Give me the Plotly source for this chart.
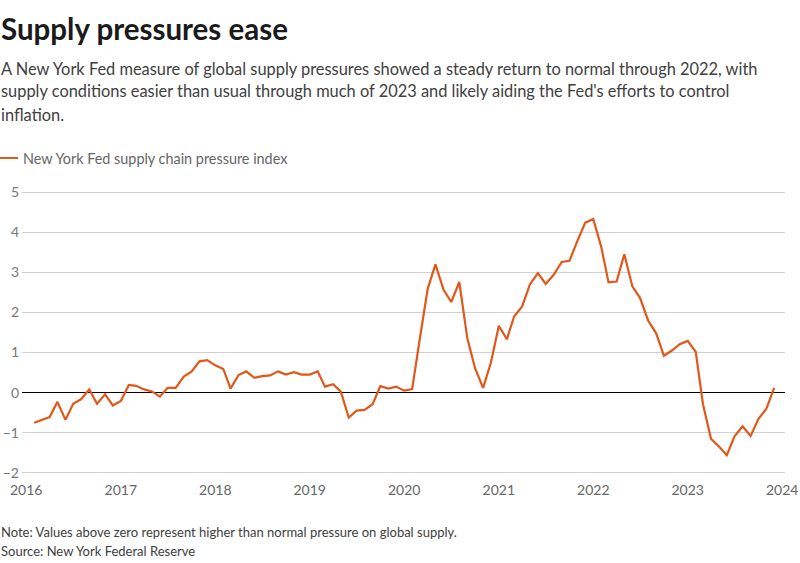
import plotly.graph_objects as go
import pandas as pd

# Monthly index, Feb 2016 - Dec 2023
months = pd.date_range("2016-02-01", "2023-12-01", freq="MS")
gscpi = [
    -0.75, -0.69, -0.61, -0.23, -0.68, -0.28, -0.16, 0.08, -0.28, -0.04, -0.32,
    -0.21, 0.19, 0.17, 0.08, 0.03, -0.10, 0.12, 0.12, 0.40, 0.52, 0.78, 0.81,
    0.68, 0.59, 0.10, 0.44, 0.53, 0.37, 0.41, 0.43, 0.53, 0.45, 0.51, 0.45,
    0.45, 0.53, 0.15, 0.21, 0.03, -0.62, -0.45, -0.43, -0.29, 0.16, 0.10, 0.15,
    0.05, 0.09, 1.32, 2.59, 3.20, 2.57, 2.26, 2.76, 1.36, 0.61, 0.12, 0.74,
    1.67, 1.33, 1.90, 2.15, 2.70, 2.98, 2.71, 2.94, 3.26, 3.29, 3.79, 4.24,
    4.33, 3.63, 2.75, 2.77, 3.45, 2.65, 2.36, 1.80, 1.48, 0.92, 1.05, 1.21,
    1.29, 1.02, -0.29, -1.15, -1.34, -1.56, -1.09, -0.84, -1.08, -0.66, -0.40,
    0.12,
]
series_name = "New York Fed supply chain pressure index"
year_ticks = [f"{y}-01-01" for y in range(2016, 2025)]
year_labels = [str(y) for y in range(2016, 2025)]
y_ticks = [-2, -1, 0, 1, 2, 3, 4, 5]

title = "Supply pressures ease"
subtitle_lines = [
    "A New York Fed measure of global supply pressures showed a steady return to normal through 2022, with",
    "supply conditions easier than usual through much of 2023 and likely aiding the Fed's efforts to control",
    "inflation.",
]
note = "Note: Values above zero represent higher than normal pressure on global supply."
source = "Source: New York Federal Reserve"

ORANGE = "#e0581a"
FONT = "Source Sans Pro, Lato, Liberation Sans Narrow, sans-serif"

W, H = 800, 563
L, R, T, B = 22, 15, 191, 89
pw, ph = W - L - R, H - T - B


def px_x(px):
    return (px - L) / pw


def px_y(py):
    return (H - B - py) / ph


fig = go.Figure()
fig.add_trace(go.Scatter(
    x=months, y=gscpi, mode="lines", name=series_name,
    line=dict(color=ORANGE, width=2.2), showlegend=False,
    hovertemplate="%{x|%b %Y}: %{y:.2f}<extra></extra>",
))

annotations = []
annotations.append(dict(text=f"<b>{title}</b>", x=px_x(-1), y=px_y(29), xref="paper", yref="paper",
                        xanchor="left", yanchor="middle", showarrow=False,
                        font=dict(family=FONT, size=29.5, color="#1a1a1a")))
for i, line in enumerate(subtitle_lines):
    annotations.append(dict(text=line, x=px_x(-1), y=px_y(68 + 23 * i), xref="paper", yref="paper",
                            xanchor="left", yanchor="middle", showarrow=False,
                            font=dict(family=FONT, size=16.4, color="#404040")))
annotations.append(dict(text=series_name, x=px_x(21), y=px_y(158), xref="paper", yref="paper",
                        xanchor="left", yanchor="middle", showarrow=False,
                        font=dict(family=FONT, size=14.4, color="#666666")))
annotations.append(dict(text=note, x=px_x(-1), y=px_y(532), xref="paper", yref="paper",
                        xanchor="left", yanchor="middle", showarrow=False,
                        font=dict(family=FONT, size=13, color="#404040")))
annotations.append(dict(text=source, x=px_x(-1), y=px_y(551), xref="paper", yref="paper",
                        xanchor="left", yanchor="middle", showarrow=False,
                        font=dict(family=FONT, size=13, color="#404040")))

shapes = [dict(type="line", xref="paper", yref="paper", x0=px_x(0), x1=px_x(18),
               y0=px_y(158), y1=px_y(158), line=dict(color=ORANGE, width=2))]

fig.update_layout(
    width=W, height=H,
    margin=dict(l=L, r=R, t=T, b=B, pad=0, autoexpand=False),
    paper_bgcolor="white", plot_bgcolor="white",
    font=dict(family=FONT, color="#666666"),
    annotations=annotations, shapes=shapes,
    xaxis=dict(
        type="date", range=["2015-12-16", "2024-01-12"],
        tickvals=year_ticks, ticktext=year_labels,
        showgrid=False, zeroline=False, showline=False, ticks="",
        ticklabelstandoff=6,
        tickfont=dict(size=14, color="#666666"), automargin=False,
    ),
    yaxis=dict(
        range=[-2.03, 5.03], tickvals=y_ticks,
        showgrid=True, gridcolor="#d0d0d0", gridwidth=1,
        zeroline=True, zerolinecolor="#000000", zerolinewidth=1,
        showline=False, ticks="", ticklabelstandoff=2,
        tickfont=dict(size=14, color="#777777"), automargin=False,
    ),
)

fig.write_html(
    "out.html",
    config={"displayModeBar": False},
    post_script="document.body.style.margin='0';document.body.style.overflow='hidden';",
)
